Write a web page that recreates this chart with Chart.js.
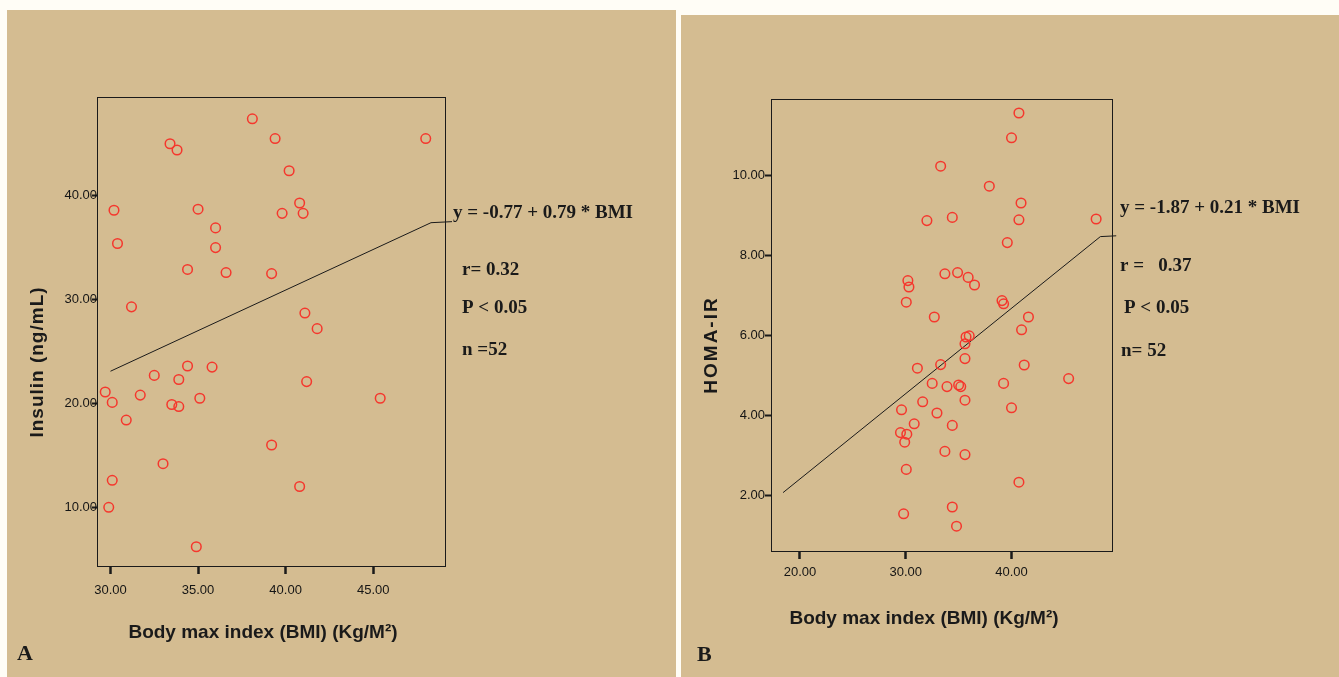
<!DOCTYPE html>
<html>
<head>
<meta charset="utf-8">
<script src="https://cdn.jsdelivr.net/npm/chart.js@4"></script>
<style>
  html, body { margin: 0; padding: 0; background: #FFFDF6; }
  body { width: 1339px; height: 677px; position: relative; overflow: hidden; }
  .panel { position: absolute; background: #D4BC91; }
  #panelA { left: 7px; top: 10px; width: 669px; height: 667px; }
  #panelB { left: 681px; top: 15px; width: 658px; height: 662px; }
</style>
</head>
<body>
<div class="panel" id="panelA"><canvas id="chartA" width="669" height="667"></canvas></div>
<div class="panel" id="panelB"><canvas id="chartB" width="658" height="662"></canvas></div>
<script>
// ---- Panel A : BMI vs Insulin ----
const bmiA = [38.1, 33.4, 33.8, 39.4, 48.0, 40.2, 30.2, 35.0, 40.8, 39.8, 41.0, 36.0, 30.4, 36.0,
              34.4, 36.6, 39.2, 31.2, 41.1, 41.8, 34.4, 35.8, 32.5, 33.9, 41.2, 29.7, 31.7, 35.1,
              45.4, 30.1, 33.5, 33.9, 30.9, 39.2, 33.0, 30.1, 40.8, 29.9, 34.9];
const insulinA = [47.4, 45.0, 44.4, 45.5, 45.5, 42.4, 38.6, 38.7, 39.3, 38.3, 38.3, 36.9, 35.4, 35.0,
                  32.9, 32.6, 32.5, 29.3, 28.7, 27.2, 23.6, 23.5, 22.7, 22.3, 22.1, 21.1, 20.8, 20.5,
                  20.5, 20.1, 19.9, 19.7, 18.4, 16.0, 14.2, 12.6, 12.0, 10.0, 6.2];
const fitAx = [30.0, 48.3, 49.5];
const fitAy = [23.1, 37.4, 37.5];
const xTicksA = [30, 35, 40, 45];
const yTicksA = [10, 20, 30, 40];

// ---- Panel B : BMI vs HOMA-IR ----
const bmiB = [40.7, 40.0, 33.3, 37.9, 40.9, 32.0, 34.4, 40.7, 48.0, 39.6, 33.7, 34.9, 35.9, 36.5,
              30.2, 30.3, 30.05, 39.1, 39.25, 32.7, 41.6, 40.95, 35.7, 36.0, 35.6, 35.6, 31.1, 33.3,
              41.2, 45.4, 32.5, 33.9, 35.0, 35.2, 39.25, 31.6, 35.6, 40.0, 29.6, 32.95, 30.8, 34.4,
              29.5, 30.1, 29.9, 33.7, 35.6, 30.05, 40.7, 34.4, 29.8, 34.8];
const homaB = [11.57, 10.95, 10.24, 9.74, 9.32, 8.88, 8.96, 8.9, 8.92, 8.33, 7.55, 7.58, 7.46, 7.27,
               7.38, 7.22, 6.84, 6.88, 6.8, 6.47, 6.47, 6.15, 5.97, 6.0, 5.8, 5.43, 5.19, 5.28,
               5.27, 4.93, 4.81, 4.73, 4.77, 4.73, 4.81, 4.35, 4.39, 4.2, 4.15, 4.07, 3.8, 3.76,
               3.58, 3.54, 3.34, 3.11, 3.03, 2.66, 2.34, 1.72, 1.55, 1.24];
const fitBx = [18.4, 48.4, 49.9];
const fitBy = [2.08, 8.48, 8.5];
const xTicksB = [20, 30, 40];
const yTicksB = [2, 4, 6, 8, 10];

const ink = '#1a1a1a';
const sansFont = '"Liberation Sans", Arial, sans-serif';
const serifFont = '"Liberation Serif", "Times New Roman", serif';

// Cadre complet + textes (titres d'axes, équation, stats, lettre du panneau)
const panelDecor = {
    id: 'panelDecor',
    afterDraw(chart, args, opts) {
        const ctx = chart.ctx;
        const a = chart.chartArea;
        ctx.save();
        ctx.strokeStyle = ink;
        ctx.lineWidth = 1;
        ctx.strokeRect(Math.round(a.left) + 0.5, Math.round(a.top) + 0.5,
                       Math.round(a.right - a.left), Math.round(a.bottom - a.top));
        ctx.fillStyle = ink;
        opts.texts.forEach(t => {
            ctx.save();
            ctx.font = t.font;
            ctx.letterSpacing = t.spacing || '0px';
            ctx.textAlign = t.align || 'left';
            ctx.textBaseline = 'middle';
            ctx.translate(t.x, t.y);
            if (t.rotate) ctx.rotate(-Math.PI / 2);
            ctx.fillText(t.text, 0, 0);
            ctx.restore();
        });
        ctx.restore();
    }
};

function makeChart(canvasId, cfg) {
    const points = cfg.xs.map((x, i) => ({x: x, y: cfg.ys[i]}));
    const fit = cfg.fx.map((x, i) => ({x: x, y: cfg.fy[i]}));
    return new Chart(document.getElementById(canvasId), {
        type: 'scatter',
        data: {
            datasets: [
                {
                    data: points,
                    pointStyle: 'circle',
                    pointRadius: 4.8,
                    pointBorderWidth: 1.5,
                    borderColor: '#F5372D',
                    backgroundColor: 'rgba(0,0,0,0)'
                },
                {
                    type: 'line',
                    data: fit,
                    borderColor: ink,
                    borderWidth: 1,
                    pointRadius: 0,
                    fill: false,
                    clip: false
                }
            ]
        },
        options: {
            responsive: false,
            animation: false,
            layout: { padding: cfg.padding },
            plugins: {
                legend: { display: false },
                tooltip: { enabled: false },
                panelDecor: { texts: cfg.texts }
            },
            scales: {
                x: {
                    type: 'linear',
                    min: cfg.xRange[0],
                    max: cfg.xRange[1],
                    afterBuildTicks: axis => { axis.ticks = cfg.xTicks.map(v => ({value: v})); },
                    afterFit: axis => { axis.height = cfg.xAxisH; },
                    border: { display: true, color: ink, width: 1 },
                    grid: { drawOnChartArea: false, drawTicks: true, tickLength: 8, tickWidth: 2.5, tickColor: ink },
                    ticks: {
                        padding: cfg.xTickPad,
                        color: '#151515',
                        font: { family: sansFont, size: 13 },
                        callback: v => Number(v).toFixed(2)
                    }
                },
                y: {
                    type: 'linear',
                    min: cfg.yRange[0],
                    max: cfg.yRange[1],
                    afterBuildTicks: axis => { axis.ticks = cfg.yTicks.map(v => ({value: v})); },
                    afterFit: axis => { axis.width = 90; },
                    border: { display: true, color: ink, width: 1 },
                    grid: { drawOnChartArea: false, drawTicks: true, tickLength: cfg.yTickLen, tickWidth: 2, tickColor: ink },
                    ticks: {
                        padding: cfg.yTickPad,
                        color: '#151515',
                        font: { family: sansFont, size: 13 },
                        callback: v => Number(v).toFixed(2)
                    }
                }
            }
        },
        plugins: [panelDecor]
    });
}

const statFont = 'bold 19px ' + serifFont;
const titleFont = 'bold 19px ' + sansFont;
const letterFont = 'bold 22px ' + serifFont;

makeChart('chartA', {
    xs: bmiA, ys: insulinA, fx: fitAx, fy: fitAy,
    xTicks: xTicksA, yTicks: yTicksA,
    xRange: [29.23, 49.1], yRange: [4.35, 49.5],
    padding: { left: 0, top: 87, right: 231, bottom: 0 },
    xAxisH: 111, xTickPad: 9, yTickLen: 5, yTickPad: -5,
    texts: [
        { text: 'y = -0.77 + 0.79 * BMI', x: 446, y: 203, font: statFont },
        { text: 'r= 0.32', x: 455, y: 260, font: statFont },
        { text: 'P < 0.05', x: 455, y: 298, font: statFont },
        { text: 'n =52', x: 455, y: 340, font: statFont },
        { text: 'Body max index (BMI) (Kg/M²)', x: 256, y: 623, font: titleFont, align: 'center' },
        { text: 'Insulin (ng/mL)', x: 31, y: 352, font: titleFont, align: 'center', rotate: true, spacing: '1px' },
        { text: 'A', x: 10, y: 644, font: letterFont }
    ]
});

makeChart('chartB', {
    xs: bmiB, ys: homaB, fx: fitBx, fy: fitBy,
    xTicks: xTicksB, yTicks: yTicksB,
    xRange: [17.26, 49.5], yRange: [0.62, 11.92],
    padding: { left: 0, top: 84, right: 227, bottom: 0 },
    xAxisH: 126, xTickPad: 6, yTickLen: 6, yTickPad: 0,
    texts: [
        { text: 'y = -1.87 + 0.21 * BMI', x: 439, y: 193, font: statFont },
        { text: 'r =   0.37', x: 439, y: 251, font: statFont },
        { text: 'P < 0.05', x: 443, y: 293, font: statFont },
        { text: 'n= 52', x: 440, y: 336, font: statFont },
        { text: 'Body max index (BMI) (Kg/M²)', x: 243, y: 604, font: titleFont, align: 'center' },
        { text: 'HOMA-IR', x: 31, y: 330, font: titleFont, align: 'center', rotate: true, spacing: '2px' },
        { text: 'B', x: 16, y: 640, font: letterFont }
    ]
});
</script>
</body>
</html>
